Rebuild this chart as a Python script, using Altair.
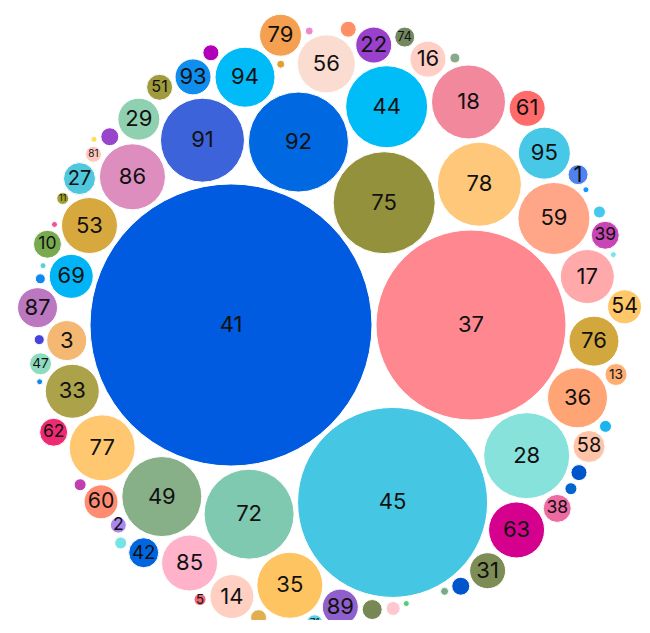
import numpy as np
import pandas as pd
import altair as alt

# ---- data (value ~ bubble area) ----
labels = ["41", "37", "45", "75", "92", "91", "44", "78", "72", "28",
          "49", "59", "17", "36", "76", "18", "95", "63", "31", "35",
          "85", "14", "89", "77", "33", "3", "86", "53", "69", "87",
          "29", "94", "93", "56", "22", "16", "79", "74", "61", "1",
          "39", "54", "13", "58", "38", "42", "60", "2", "62", "47",
          "10", "27", "11", "81", "51", "5", "71",
          "", "", "", "", "", "", "", "", "", "", "", "", "", "",
          "", "", "", "", "", "", "", "", "", "", "", ""]
values = [19881, 9025, 9025, 2601, 2500, 1764, 1681, 1764, 2025, 1849,
          1600, 1296, 729, 900, 625, 1369, 676, 784, 324, 1089,
          784, 484, 324, 1089, 729, 400, 1089, 784, 484, 400,
          441, 900, 324, 841, 324, 324, 441, 100, 324, 100,
          196, 289, 121, 256, 196, 225, 289, 64, 196, 121,
          196, 256, 36, 64, 169, 36, 64,
          64, 16, 16, 64, 25, 81, 9, 9, 36, 9, 9, 25, 9, 25,
          9, 36, 36, 64, 100, 49, 9, 81, 16, 64, 36, 36]
palette = ["#005BE0", "#FF8890", "#45C6E2", "#94913C", "#0068E0", "#3D63DA",
           "#00BDF7", "#FFC77A", "#80C9B1", "#88E2DC", "#88B088", "#FFA688",
           "#FFA9AA", "#FFA474", "#D2A83E", "#F2889B", "#47C8E6", "#D6008E",
           "#7E8C55", "#FFC462", "#FFB3CA", "#FFD0C2", "#8F5FCC", "#FFC870",
           "#ACA24A", "#F5B872", "#DD8EBF", "#D6A83E", "#00B4F5", "#BB77BF",
           "#8ED0B0", "#00BBF7", "#0F8EEE", "#FADCD0", "#9940CC", "#FFCEC4",
           "#F5A050", "#748860", "#FF6B6B", "#4F82EE", "#C845B5", "#FFC768",
           "#FFAE72", "#FFC4A8", "#EE6AA2", "#0066E0", "#FF8C70", "#AA88EE",
           "#EE2A72", "#8EDCC0", "#7AAA50", "#4FC8DE", "#A0A030", "#FFC8BE",
           "#A09B3C", "#EE6677", "#5CD0E0",
           "#B000B8", "#E0A030", "#EE88CC", "#FF9066", "#88AA88", "#9944CC",
           "#FFDD55", "#1199FF", "#44C8EE", "#77E4E8", "#EE5599", "#1188EE",
           "#55D0DD", "#4444DD", "#1188EE", "#C040B0", "#77E4E4", "#E0B050",
           "#778855", "#FFC8D0", "#55CC77", "#0055CC", "#77AA88", "#0055CC",
           "#0066CC", "#1BB5EE"]

# ---- layout hints: the two neighbours each bubble nestles against ----
ids = [l if l else "t%d" % i for i, l in enumerate(labels)]
tiny_seq = [1, 2, 3, 4, 5, 6, 7, 8, 9, 10, 11, 13, 12, 14, 15, 16, 17, 18, 19,
            20, 21, 23, 22, 24, 25, 26]
T = {n: "t%d" % (57 + p) for p, n in enumerate(tiny_seq)}
anchors = [None, None, ("41", "37"), ("41", "37"), ("41", "75"), ("41", "92"),
           ("75", "92"), ("75", "37"), ("41", "45"), ("37", "45"), ("41", "72"),
           ("78", "37"), ("59", "37"), ("37", "28"), ("37", "36"), ("44", "78"),
           ("78", "59"), ("28", "45"), ("63", "45"), ("45", "72"), ("72", "49"),
           ("35", "85"), ("45", "35"), ("41", "49"), ("41", "77"), ("41", "33"),
           ("41", "91"), ("41", "86"), ("41", "53"), ("3", "69"), ("86", "91"),
           ("91", "92"), ("91", "94"), ("92", "44"), ("44", "56"), ("44", "18"),
           ("94", "56"), ("22", "16"), ("18", "95"), ("95", "59"), ("59", "17"),
           ("17", "76"), ("76", "36"), ("36", "28"), ("28", "63"), ("49", "85"),
           ("49", "77"), ("60", "49"), ("77", "33"), ("33", "3"), ("69", "53"),
           ("86", "53"), ("27", "53"), ("86", "27"), ("29", "93"), ("85", "14"),
           ("35", "89"),
           ("93", "94"), ("94", "79"), ("79", "56"), ("56", "22"), ("16", "18"),
           ("86", "29"), (T[6], "81"), ("1", "59"), ("59", "39"), ("39", "17"),
           ("53", "10"), ("69", "87"), ("10", T[13]), ("87", "47"), ("47", "33"),
           ("77", "60"), ("42", "2"), ("14", "35"), ("45", "89"), ("45", T[19]),
           ("45", T[20]), ("45", "31"), ("45", T[23]), ("58", "28"), (T[24], "38"),
           ("36", "58")]


def pack(radii, pad=4.0):
    n = len(radii)
    pos = np.zeros((n, 2))
    idx = {name: i for i, name in enumerate(ids)}
    pos[1] = (radii[0] + radii[1] + pad, 0.0)
    for k in range(2, n):
        r = radii[k]
        ia, ib = idx[anchors[k][0]], idx[anchors[k][1]]
        Pa, Pb = pos[ia], pos[ib]
        a, b = radii[ia] + r + pad, radii[ib] + r + pad
        dv = Pb - Pa
        d = float(np.hypot(*dv))
        u = dv / d
        xa = (a * a - b * b + d * d) / (2 * d)
        h = np.sqrt(max(a * a - xa * xa, 0.0))
        perp = np.array([-u[1], u[0]])
        base = Pa + u * xa
        cands = [base + perp * h, base - perp * h]
        others = [j for j in range(k) if j not in (ia, ib)]
        if k == 2 or not others:
            best = 0 if cands[0][1] > cands[1][1] else 1
        else:
            P, R = pos[others], radii[others]
            overlap = [max(0.0, float((R + r + pad - np.hypot(*(P - c).T)).max())) for c in cands]
            best = int(np.argmin(overlap))
        pos[k] = cands[best]
    return pos


vals = np.array(values, dtype=float)
radii = np.sqrt(vals)
xy = pack(radii)
xy = xy - xy[0] + np.array([231.0, 325.0])

fs = np.array([min(22.0, max(9.0, r * (2.2 if len(l) == 1 else 1.25))) for l, r in zip(labels, radii)])

df = pd.DataFrame({
    "x": xy[:, 0], "y": xy[:, 1], "label": labels, "value": vals,
    "color": palette, "fs": fs,
})

W, H = 634, 612
vmax = float(vals.max())
xs = alt.Scale(domain=[8, 8 + W], nice=False, zero=False)
ys = alt.Scale(domain=[8, 8 + H], nice=False, zero=False, reverse=True)

base = alt.Chart(df).encode(
    x=alt.X("x:Q", scale=xs, axis=None),
    y=alt.Y("y:Q", scale=ys, axis=None),
)
bubbles = base.mark_circle(opacity=1, stroke="white", strokeWidth=1).encode(
    size=alt.Size("value:Q", scale=alt.Scale(type="linear", domain=[0, vmax], range=[0, 4 * vmax]), legend=None),
    color=alt.Color("color:N", scale=None),
)
text = base.mark_text(font="Inter", color="#111111", baseline="middle", align="center").encode(
    text="label:N",
    size=alt.Size("fs:Q", scale=None),
)

chart = (bubbles + text).properties(
    width=W, height=H, padding=0, autosize=alt.AutoSizeParams(type="none")
).configure_view(stroke=None)

chart.save("out.html", embed_options={"renderer": "svg", "actions": False})
